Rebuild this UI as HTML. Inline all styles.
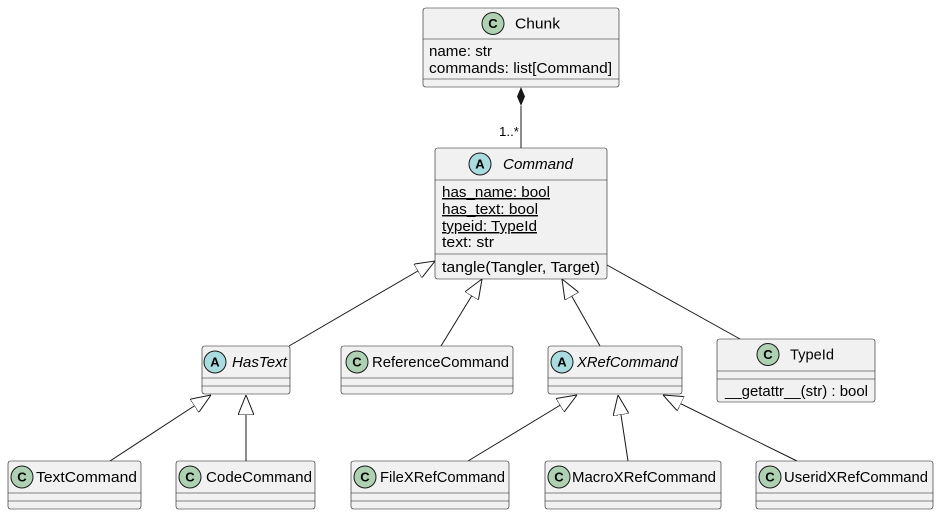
<!DOCTYPE html>
<html><head><meta charset="utf-8"><style>
html,body{margin:0;padding:0;background:#fff;}
svg{display:block;font-family:"Liberation Sans",sans-serif;}
.b{fill:#F1F1F1;stroke:#181818;stroke-width:0.6;}
.l{stroke:#181818;stroke-width:0.6;}
.e{stroke:#181818;stroke-width:1;fill:none;}
.n{font-size:15px;fill:#000;}
.f{font-size:14.5px;fill:#000;}
.ic{stroke:#181818;stroke-width:1;}
.il{font-size:13px;font-weight:bold;fill:#000;}
</style></head><body>
<svg width="939" height="516" viewBox="0 0 939 516">
<defs>
<marker id="t" viewBox="0 0 20 16" refX="20" refY="8" markerWidth="20" markerHeight="16" markerUnits="userSpaceOnUse" orient="auto">
<path d="M0,0 L20,8 L0,16 Z" fill="#fff" stroke="#181818" stroke-width="1"/>
</marker>
</defs>

<!-- edges -->
<path class="e" d="M521,106 L521,148"/>
<path d="M521,87 L525,96.5 L521,106 L517,96.5 Z" fill="#181818"/>
<text x="499" y="136" style="font-size:13px" textLength="20" lengthAdjust="spacingAndGlyphs">1..*</text>
<path class="e" d="M289,346 L435,261" marker-end="url(#t)"/>
<path class="e" d="M441,346 L482,279" marker-end="url(#t)"/>
<path class="e" d="M600,346 L562,279" marker-end="url(#t)"/>
<path class="e" d="M607,265 L740,339"/>
<path class="e" d="M110,461 L211,395" marker-end="url(#t)"/>
<path class="e" d="M246,461 L246,395" marker-end="url(#t)"/>
<path class="e" d="M468,461 L577,395" marker-end="url(#t)"/>
<path class="e" d="M628,461 L618,395" marker-end="url(#t)"/>
<path class="e" d="M797,461 L663,395" marker-end="url(#t)"/>

<!-- Chunk -->
<rect class="b" x="423" y="8" width="196" height="79" rx="2.5"/>
<line class="l" x1="423" y1="39" x2="619" y2="39"/>
<line class="l" x1="423" y1="79" x2="619" y2="79"/>
<circle class="ic" cx="493" cy="23.5" r="11" fill="#ADD1B2"/><text class="il" x="493" y="28" text-anchor="middle">C</text>
<text class="n" x="515" y="28.5" textLength="45" lengthAdjust="spacingAndGlyphs">Chunk</text>
<text class="f" x="429" y="56" textLength="63" lengthAdjust="spacingAndGlyphs">name: str</text>
<text class="f" x="429" y="73" textLength="183" lengthAdjust="spacingAndGlyphs">commands: list[Command]</text>

<!-- Command -->
<rect class="b" x="435" y="148" width="172" height="131" rx="2.5"/>
<line class="l" x1="435" y1="180" x2="607" y2="180"/>
<line class="l" x1="435" y1="254" x2="607" y2="254"/>
<circle class="ic" cx="480" cy="164" r="11" fill="#A9DCDF"/><text class="il" x="480" y="168.5" text-anchor="middle">A</text>
<text class="n" x="503" y="169" font-style="italic" textLength="70" lengthAdjust="spacingAndGlyphs">Command</text>
<text class="f" x="442" y="197" text-decoration="underline" textLength="108" lengthAdjust="spacingAndGlyphs">has_name: bool</text>
<text class="f" x="442" y="214" text-decoration="underline" textLength="96" lengthAdjust="spacingAndGlyphs">has_text: bool</text>
<text class="f" x="442" y="231" text-decoration="underline" textLength="95" lengthAdjust="spacingAndGlyphs">typeid: TypeId</text>
<text class="f" x="442" y="247" textLength="52" lengthAdjust="spacingAndGlyphs">text: str</text>
<text class="f" x="442" y="272" textLength="158" lengthAdjust="spacingAndGlyphs">tangle(Tangler, Target)</text>

<!-- HasText -->
<rect class="b" x="202" y="346" width="88" height="48" rx="2.5"/>
<line class="l" x1="202" y1="378" x2="290" y2="378"/><line class="l" x1="202" y1="386" x2="290" y2="386"/>
<circle class="ic" cx="215" cy="362" r="11" fill="#A9DCDF"/><text class="il" x="215" y="366.5" text-anchor="middle">A</text>
<text class="n" x="232" y="367" font-style="italic" textLength="55" lengthAdjust="spacingAndGlyphs">HasText</text>

<!-- ReferenceCommand -->
<rect class="b" x="341" y="346" width="172" height="48" rx="2.5"/>
<line class="l" x1="341" y1="378" x2="513" y2="378"/><line class="l" x1="341" y1="386" x2="513" y2="386"/>
<circle class="ic" cx="357" cy="362" r="11" fill="#ADD1B2"/><text class="il" x="357" y="366.5" text-anchor="middle">C</text>
<text class="n" x="372" y="367" textLength="137" lengthAdjust="spacingAndGlyphs">ReferenceCommand</text>

<!-- XRefCommand -->
<rect class="b" x="548" y="346" width="134" height="48" rx="2.5"/>
<line class="l" x1="548" y1="378" x2="682" y2="378"/><line class="l" x1="548" y1="386" x2="682" y2="386"/>
<circle class="ic" cx="562" cy="362" r="11" fill="#A9DCDF"/><text class="il" x="562" y="366.5" text-anchor="middle">A</text>
<text class="n" x="577" y="367" font-style="italic" textLength="101" lengthAdjust="spacingAndGlyphs">XRefCommand</text>

<!-- TypeId -->
<rect class="b" x="717" y="339" width="158" height="63" rx="2.5"/>
<line class="l" x1="717" y1="371" x2="875" y2="371"/><line class="l" x1="717" y1="379" x2="875" y2="379"/>
<circle class="ic" cx="768" cy="354.5" r="11" fill="#ADD1B2"/><text class="il" x="768" y="359" text-anchor="middle">C</text>
<text class="n" x="790" y="359.5" textLength="44" lengthAdjust="spacingAndGlyphs">TypeId</text>
<text class="f" x="725" y="396" textLength="143" lengthAdjust="spacingAndGlyphs">__getattr__(str) : bool</text>

<!-- bottom row -->
<rect class="b" x="8" y="461" width="133" height="48" rx="2.5"/>
<line class="l" x1="8" y1="493" x2="141" y2="493"/><line class="l" x1="8" y1="501" x2="141" y2="501"/>
<circle class="ic" cx="22" cy="477" r="11" fill="#ADD1B2"/><text class="il" x="22" y="481.5" text-anchor="middle">C</text>
<text class="n" x="36" y="482" textLength="101" lengthAdjust="spacingAndGlyphs">TextCommand</text>

<rect class="b" x="176" y="461" width="139" height="48" rx="2.5"/>
<line class="l" x1="176" y1="493" x2="315" y2="493"/><line class="l" x1="176" y1="501" x2="315" y2="501"/>
<circle class="ic" cx="190" cy="477" r="11" fill="#ADD1B2"/><text class="il" x="190" y="481.5" text-anchor="middle">C</text>
<text class="n" x="206" y="482" textLength="106" lengthAdjust="spacingAndGlyphs">CodeCommand</text>

<rect class="b" x="351" y="461" width="158" height="48" rx="2.5"/>
<line class="l" x1="351" y1="493" x2="509" y2="493"/><line class="l" x1="351" y1="501" x2="509" y2="501"/>
<circle class="ic" cx="365" cy="477" r="11" fill="#ADD1B2"/><text class="il" x="365" y="481.5" text-anchor="middle">C</text>
<text class="n" x="380" y="482" textLength="125" lengthAdjust="spacingAndGlyphs">FileXRefCommand</text>

<rect class="b" x="545" y="461" width="176" height="48" rx="2.5"/>
<line class="l" x1="545" y1="493" x2="721" y2="493"/><line class="l" x1="545" y1="501" x2="721" y2="501"/>
<circle class="ic" cx="559" cy="477" r="11" fill="#ADD1B2"/><text class="il" x="559" y="481.5" text-anchor="middle">C</text>
<text class="n" x="572" y="482" textLength="144" lengthAdjust="spacingAndGlyphs">MacroXRefCommand</text>

<rect class="b" x="756" y="461" width="177" height="48" rx="2.5"/>
<line class="l" x1="756" y1="493" x2="933" y2="493"/><line class="l" x1="756" y1="501" x2="933" y2="501"/>
<circle class="ic" cx="770" cy="477" r="11" fill="#ADD1B2"/><text class="il" x="770" y="481.5" text-anchor="middle">C</text>
<text class="n" x="784" y="482" textLength="144" lengthAdjust="spacingAndGlyphs">UseridXRefCommand</text>
</svg>
</body></html>
